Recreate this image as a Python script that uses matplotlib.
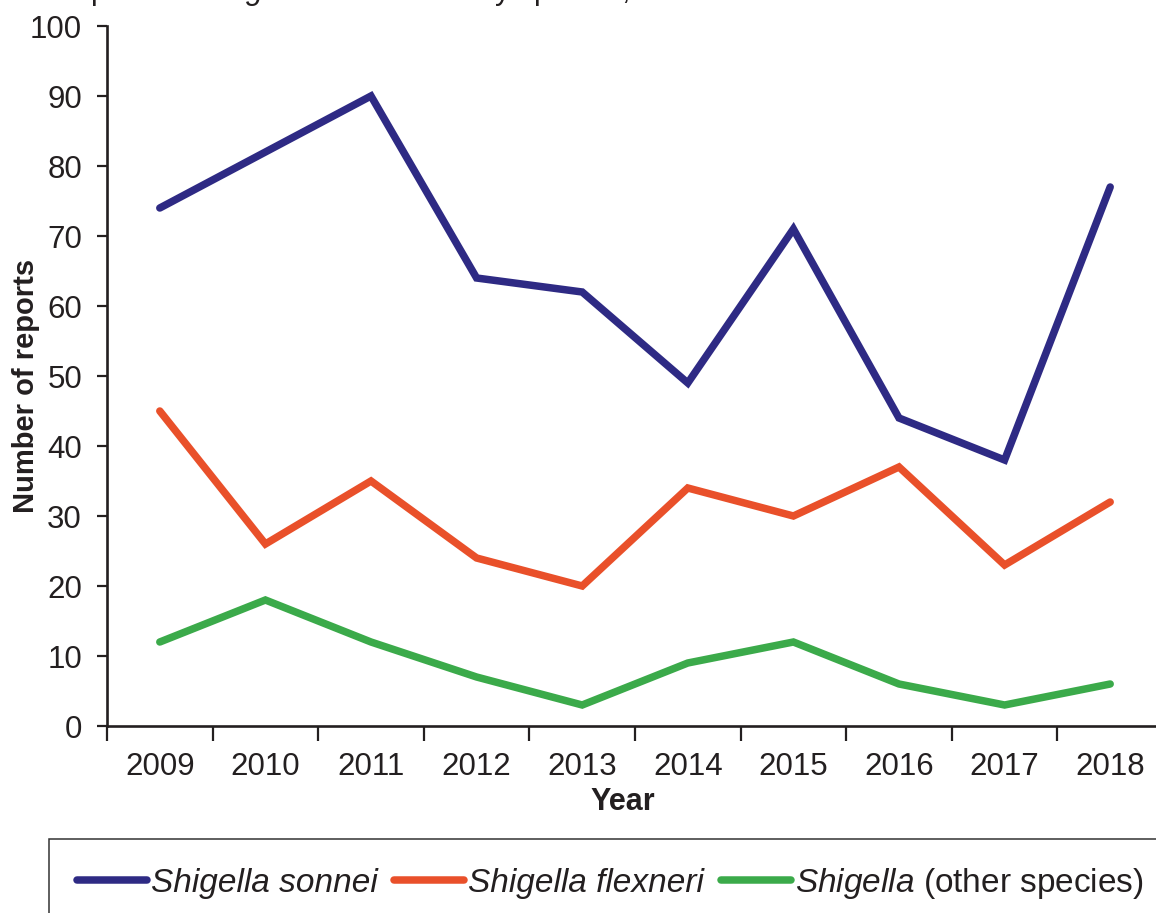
import matplotlib
matplotlib.use("Agg")
import matplotlib.pyplot as plt
from matplotlib.patches import Rectangle
from matplotlib.lines import Line2D

plt.rcParams['font.family'] = ['Liberation Sans', 'DejaVu Sans']
plt.rcParams['mathtext.fontset'] = 'custom'
plt.rcParams['mathtext.it'] = 'Liberation Sans:italic'
plt.rcParams['mathtext.rm'] = 'Liberation Sans'

years = ["2009", "2010", "2011", "2012", "2013", "2014", "2015", "2016", "2017", "2018"]
sonnei = [74, 82, 90, 64, 62, 49, 71, 44, 38, 77]
flexneri = [45, 26, 35, 24, 20, 34, 30, 37, 23, 32]
other = [12, 18, 12, 7, 3, 9, 12, 6, 3, 6]

series_labels = ["Shigella sonnei", "Shigella flexneri", r"$\mathit{Shigella}$ (other species)"]
colors = ["#2E2A84", "#E9502A", "#3BAA4A"]

W, H = 1156, 913
fig = plt.figure(figsize=(W / 100, H / 100), dpi=100)
ax = fig.add_axes([107 / W, (H - 726) / H, 1056 / W, 700 / H])

x = list(range(len(years)))
for vals, c in zip([sonnei, flexneri, other], colors):
    ax.plot(x, vals, color=c, lw=5.4, solid_capstyle='round', solid_joinstyle='miter', clip_on=False)

ax.set_xlim(-0.5, 9.5)
ax.set_ylim(0, 100)
ax.set_yticks(range(0, 101, 10))
ax.set_xticks(x)
ax.set_xticklabels(years)
ax.set_xticks([i - 0.5 for i in range(len(years) + 1)], minor=True)

axis_col = "#231F20"
for s in ['top', 'right']:
    ax.spines[s].set_visible(False)
for s in ['left', 'bottom']:
    ax.spines[s].set_linewidth(1.9)
    ax.spines[s].set_color(axis_col)

ax.tick_params(axis='y', direction='out', length=7.5, width=1.6, color=axis_col,
               labelsize=22.5, pad=10.5, labelcolor='#231F20')
ax.tick_params(axis='x', which='major', length=0, labelsize=22.5, pad=19, labelcolor='#231F20')
ax.tick_params(axis='x', which='minor', direction='out', length=11, width=1.6, color=axis_col)

ax.set_ylabel("Number of reports", fontsize=21, fontweight='bold', color='#231F20')
ax.yaxis.set_label_coords((40 - 107) / 1056, (726 - 386) / 700)
fig.text(623 / W, 1 - 802 / H, "Year", fontsize=22, fontweight='bold', color='#231F20',
         ha='center', va='center')

# Title, cut off at the top edge as in the reference
fig.text(52 / W, 1 + 1 / H, r"Reports of $\mathit{Shigella}$ in Scotland by species, 2009–2018",
         fontsize=22, color='#231F20', ha='left', va='baseline')

# Legend box
fig.patches.append(Rectangle((49 / W, -0.1), 2.0, (H - 839) / H + 0.1, transform=fig.transFigure,
                             fill=False, edgecolor='#333333', lw=1.1))

handles = [Line2D([0], [0], color=c, lw=5.4, solid_capstyle='round') for c in colors]
leg = fig.legend(handles, series_labels, loc='center left', bbox_to_anchor=(77 / W, 1 - 883 / H),
                 ncol=3, frameon=False, fontsize=24, handlelength=2.1, handletextpad=0.12,
                 columnspacing=0.5, borderpad=0, borderaxespad=0)
for t in leg.get_texts()[:2]:
    t.set_style('italic')
for t in leg.get_texts():
    t.set_color('#231F20')

fig.savefig("out.png", dpi=100)
